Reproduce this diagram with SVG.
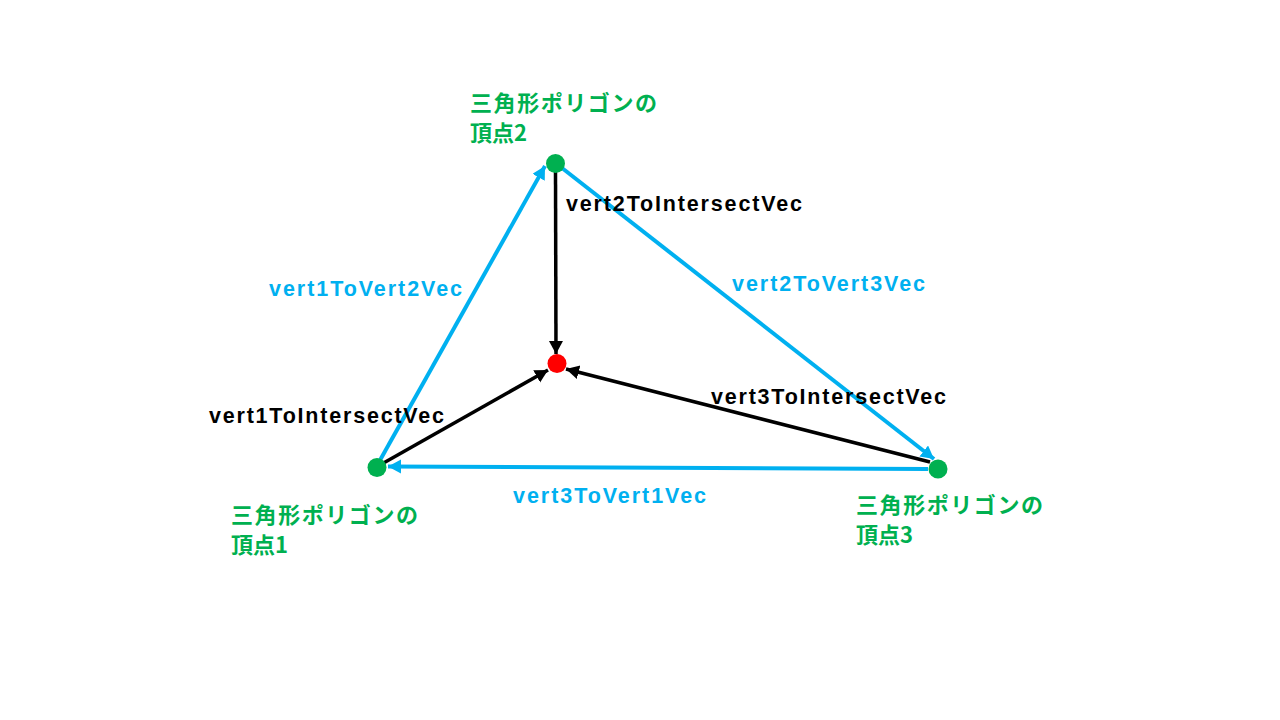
<svg xmlns="http://www.w3.org/2000/svg" width="1280" height="720" viewBox="0 0 1280 720">
<style>
.blue{stroke:#00B0F0;stroke-width:4;fill:none}
.black{stroke:#000;stroke-width:3.5;fill:none}
.lbl{font-family:"Liberation Sans","Noto Sans",sans-serif;font-weight:bold;font-size:21.5px}
.jp{font-family:"Noto Sans CJK JP",sans-serif;font-weight:bold;font-size:22px;fill:#00B050}
.tb{fill:#00B0F0}
.tk{fill:#000}
.vtx{fill:#00B050}
</style>
<defs>
<marker id="ab" markerUnits="userSpaceOnUse" markerWidth="15" markerHeight="15" refX="13" refY="7" orient="auto" viewBox="0 0 15 15">
<path d="M0,0 L13,7 L0,14 z" fill="#00B0F0"/>
</marker>
<marker id="ak" markerUnits="userSpaceOnUse" markerWidth="15" markerHeight="15" refX="13" refY="7" orient="auto" viewBox="0 0 15 15">
<path d="M0,0 L13,7 L0,14 z" fill="#000"/>
</marker>
</defs>
<rect width="1280" height="720" fill="#fff"/>
<g id="connectors">
<line class="blue" x1="379" y1="462" x2="545" y2="166" marker-end="url(#ab)"/>
<line class="blue" x1="562" y1="168" x2="934" y2="459" marker-end="url(#ab)"/>
<line class="blue" x1="928" y1="469" x2="388" y2="466.5" marker-end="url(#ab)"/>
<line class="black" x1="555.5" y1="172" x2="556" y2="354" marker-end="url(#ak)"/>
<line class="black" x1="380" y1="465" x2="548" y2="370" marker-end="url(#ak)"/>
<line class="black" x1="930" y1="462" x2="566" y2="369" marker-end="url(#ak)"/>
</g>
<g id="vertex2">
<circle class="vtx" cx="555.5" cy="163.5" r="9.5"/>
<text class="jp" x="470" y="111" textLength="187" lengthAdjust="spacing">三角形ポリゴンの</text>
<text class="jp" x="470" y="141">頂点2</text>
</g>
<g id="vertex1">
<circle class="vtx" cx="377" cy="467.5" r="9.5"/>
<text class="jp" x="231" y="523" textLength="187" lengthAdjust="spacing">三角形ポリゴンの</text>
<text class="jp" x="231" y="553">頂点1</text>
</g>
<g id="vertex3">
<circle class="vtx" cx="938" cy="469" r="9.5"/>
<text class="jp" x="856" y="513" textLength="187" lengthAdjust="spacing">三角形ポリゴンの</text>
<text class="jp" x="856" y="543">頂点3</text>
</g>
<g id="intersect">
<circle cx="557" cy="363.5" r="9.5" fill="#FF0000"/>
</g>
<g id="labels">
<text class="lbl tk" x="566" y="211" textLength="236" lengthAdjust="spacing">vert2ToIntersectVec</text>
<text class="lbl tb" x="269" y="296" textLength="193" lengthAdjust="spacing">vert1ToVert2Vec</text>
<text class="lbl tb" x="732" y="291" textLength="193" lengthAdjust="spacing">vert2ToVert3Vec</text>
<text class="lbl tk" x="711" y="404" textLength="235" lengthAdjust="spacing">vert3ToIntersectVec</text>
<text class="lbl tk" x="209" y="423" textLength="235" lengthAdjust="spacing">vert1ToIntersectVec</text>
<text class="lbl tb" x="513" y="503" textLength="193" lengthAdjust="spacing">vert3ToVert1Vec</text>
</g>
</svg>
